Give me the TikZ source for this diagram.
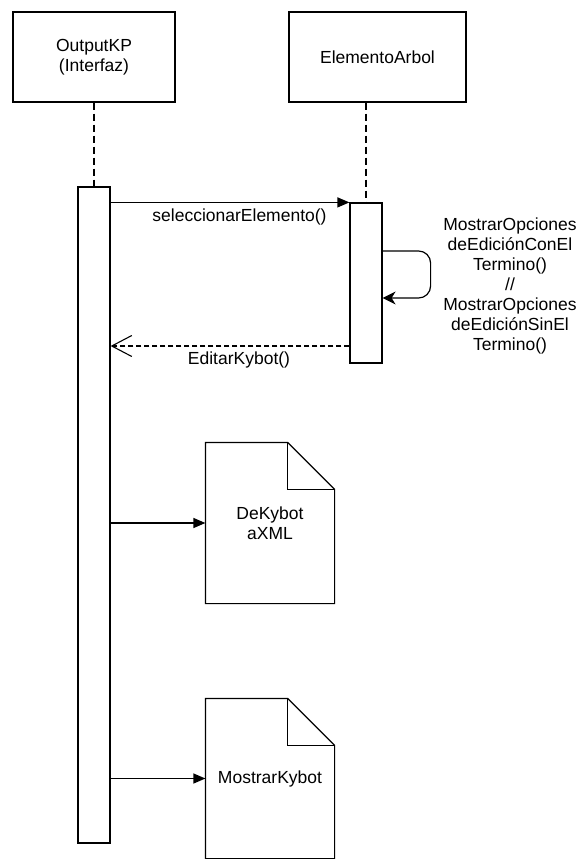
\documentclass[tikz,border=0pt]{standalone}
\usepackage{fontspec}
\setmainfont{Liberation Sans}
\usetikzlibrary{arrows.meta}
\begin{document}
\begin{tikzpicture}[x=1pt,y=-1pt, line width=1.2pt,
  every node/.style={font=\fontsize{17.5}{20}\selectfont, inner sep=0pt},
  lifebox/.style={draw, minimum height=90pt, align=center},
  actbar/.style={draw, fill=white, minimum width=32pt},
  notebox/.style={minimum width=128pt, align=center},
  lifeline/.style={dash pattern=on 7pt off 4pt, line width=1.1pt},
  msg/.style={-{Triangle[length=12pt,width=10pt]}},
  retmsg/.style={dash pattern=on 5pt off 3pt, line width=1.1pt, -{Straight Barb[length=20pt,width=21pt,line width=1.1pt]}},
  selfmsg/.style={rounded corners=12pt, -{Stealth[length=13pt,width=13pt,inset=4pt]}}
]
\useasboundingbox (0,0) rectangle (582,859);

% lifeline heads
\node[lifebox, minimum width=162pt] (out) at (94,57) {OutputKP\\(Interfaz)};
\node[lifebox, minimum width=177pt] (elem) at (377.5,57) {ElementoArbol};

% activation bars
\node[actbar, minimum height=656pt] (bar1) at (94,515) {};
\node[actbar, minimum height=160pt] (bar2) at (366,283) {};

% lifelines
\draw[lifeline] (out.south) -- (bar1.north);
\draw[lifeline] (elem.south -| bar2.north) -- (bar2.north);

% message 1
\coordinate (m1s) at (bar2.north west -| bar1.east);
\draw[msg] (m1s) -- (bar2.north west);
\node (l1) at (239.5,217) {seleccionarElemento()};

% self message
\coordinate (s1) at ([yshift=32pt]bar2.east);
\coordinate (s2) at ([yshift=-15pt]bar2.east);
\coordinate (s1r) at ([xshift=48pt]s1);
\coordinate (s2r) at ([xshift=48pt]s2);
\draw[selfmsg] (s1) -- (s1r) -- (s2r) -- (s2);
\node[align=center] (l2) at (510,286) {MostrarOpciones\\deEdiciónConEl\\Termino()\\//\\MostrarOpciones\\deEdiciónSinEl\\Termino()};

% return message
\coordinate (r1) at ([yshift=-63pt]bar2.west);
\coordinate (r2) at (r1 -| bar1.east);
\draw[retmsg] (r1) -- (r2);
\node (l3) at (239,360) {EditarKybot()};

% notes
\node[notebox, minimum height=160pt] (n1) at (270,523) {DeKybot\\aXML};
\node[notebox, minimum height=159pt] (n2) at (270,778.5) {MostrarKybot};
\foreach \n in {n1,n2}{
  \draw[line join=miter] (\n.north west) -- ([xshift=-47pt]\n.north east) -- ([yshift=-47pt]\n.north east) -- (\n.south east) -- (\n.south west) -- cycle;
  \draw ([xshift=-47pt]\n.north east) -- ([xshift=-47pt,yshift=-47pt]\n.north east) -- ([yshift=-47pt]\n.north east);
}

% calls to notes
\draw[msg] (bar1.east |- n1.west) -- (n1.west);
\draw[msg] (bar1.east |- n2.west) -- (n2.west);
\end{tikzpicture}
\end{document}
